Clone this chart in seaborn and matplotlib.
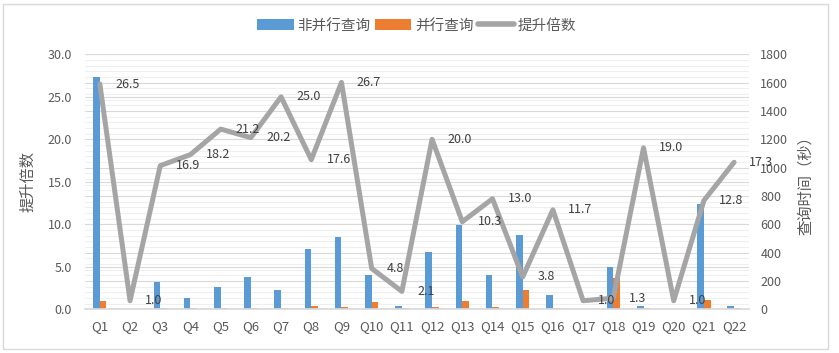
import matplotlib
matplotlib.use("Agg")
import matplotlib.pyplot as plt
from matplotlib.patches import Patch, Rectangle
from matplotlib.lines import Line2D
from matplotlib.ticker import MultipleLocator, FormatStrFormatter
import numpy as np
import pandas as pd
import seaborn as sns

# ---- data ----
categories = [f"Q{i}" for i in range(1, 23)]
speedup = [26.5, 1.0, 16.9, 18.2, 21.2, 20.2, 25.0, 17.6, 26.7, 4.8, 2.1,
           20.0, 10.3, 13.0, 3.8, 11.7, 1.0, 1.3, 19.0, 1.0, 12.8, 17.3]
serial_time = [1640, 1, 191, 80, 157, 228, 136, 424, 508, 242, 23,
               407, 592, 242, 521, 101, 1, 296, 23, 1, 741, 23]
parallel_time = [59, 1, 11, 9, 9, 11, 9, 23, 18, 51, 10,
                 16, 58, 16, 136, 9, 1, 219, 9, 1, 66, 9]
series_names = ["非并行查询", "并行查询", "提升倍数"]

BLUE, ORANGE, GRAY = "#5b9bd5", "#ed7d31", "#a5a5a5"
TXT = "#595959"

sns.set_theme(style="white")
plt.rcParams["font.family"] = ["Noto Sans CJK SC", "DejaVu Sans"]

bars = pd.DataFrame({
    "q": categories * 2,
    "t": serial_time + parallel_time,
    "s": [series_names[0]] * len(categories) + [series_names[1]] * len(categories),
})
line = pd.DataFrame({"pos": np.arange(len(categories)), "v": speedup})

fig, ax = plt.subplots(figsize=(8.39, 3.53), dpi=100)
fig.subplots_adjust(left=0.101, right=0.893, bottom=0.124, top=0.846)
ax2 = ax.twinx()

sns.barplot(data=bars, x="q", y="t", hue="s", ax=ax2, width=0.44,
            palette=[BLUE, ORANGE], saturation=1, legend=False, order=categories,
            linewidth=0, edgecolor="none")
sns.lineplot(data=line, x="pos", y="v", ax=ax, color=GRAY, linewidth=3.6,
             legend=False)

ax.set_zorder(ax2.get_zorder() + 1)
ax.patch.set_visible(False)

ax.set_ylim(0, 30)
ax2.set_ylim(0, 1800)
ax.set_xlim(-0.5, len(categories) - 0.5)
ax.yaxis.set_major_locator(MultipleLocator(5))
ax.yaxis.set_major_formatter(FormatStrFormatter("%.1f"))
ax2.yaxis.set_major_locator(MultipleLocator(200))
ax2.yaxis.set_minor_locator(MultipleLocator(40))

# gridlines on bar axis (behind bars)
ax2.set_axisbelow(True)
ax2.grid(which="major", axis="y", color="#d9d9d9", linewidth=0.8)
ax2.grid(which="minor", axis="y", color="#efefef", linewidth=0.8)
for v in ax.get_yticks():
    ax2.axhline(v * 1800 / 30, color="#d9d9d9", linewidth=0.8, zorder=0)
ax.grid(False)

ax.set_xticks(np.arange(len(categories)))
ax.set_xticklabels(categories)
ax.set_xticks(np.arange(len(categories) + 1) - 0.5, minor=True)
ax.tick_params(axis="x", which="major", length=0, labelsize=9.5, colors=TXT, pad=8)
ax.tick_params(axis="x", which="minor", length=5, color="#d9d9d9", width=0.8)
ax.tick_params(axis="y", length=0, labelsize=9, colors=TXT, pad=9)
ax2.tick_params(axis="y", which="both", length=0, labelsize=9, colors=TXT, pad=8)
ax2.tick_params(axis="x", which="both", length=0)

for a in (ax, ax2):
    for side in ("top", "left", "right"):
        a.spines[side].set_visible(False)
    a.spines["bottom"].set_color("#d9d9d9")
ax2.spines["bottom"].set_visible(False)

ax.set_xlabel("")
ax2.set_xlabel("")
ax.set_ylabel("提升倍数", fontsize=11, color=TXT, labelpad=8)
ax2.set_ylabel("查询时间（秒）", fontsize=11, color=TXT, labelpad=6)

for i, v in enumerate(speedup):
    ax.annotate(f"{v:.1f}", (i, v), xytext=(11, 0), textcoords="offset points",
                ha="left", va="center", fontsize=9, color="#404040", zorder=5)

handles = [Patch(facecolor=BLUE, edgecolor="none"),
           Patch(facecolor=ORANGE, edgecolor="none"),
           Line2D([0], [0], color=GRAY, linewidth=4)]
fig.legend(handles, series_names, loc="center", bbox_to_anchor=(0.497, 0.928),
           ncol=3, frameon=False, fontsize=10.5, handlelength=2.5,
           handleheight=0.75, handletextpad=0.25, columnspacing=0.3,
           labelcolor=TXT)

W, H = 839, 353
fig.patches.append(Rectangle((3 / W, 4 / H), (828 - 3) / W, (349 - 4) / H,
                             transform=fig.transFigure, fill=False,
                             edgecolor="#d9d9d9", linewidth=1))

fig.savefig("out.png", dpi=100)
